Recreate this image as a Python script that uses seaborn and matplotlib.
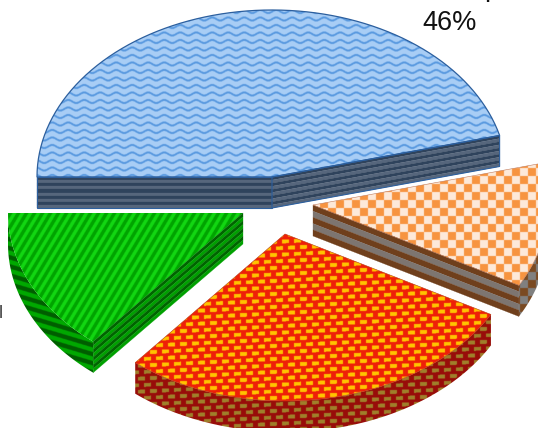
import numpy as np
import matplotlib
matplotlib.use("Agg")
import matplotlib.pyplot as plt
from matplotlib.patches import Polygon
import seaborn as sns

# slice values, clockwise from the left edge of the pie
slice_names = ["Blue", "Orange", "Red", "Green"]
slice_shares = [46, 12, 28, 14]

sns.set_theme(style="white")
plt.rcParams['font.family'] = ['Liberation Sans', 'DejaVu Sans']

# pie layout in pixels
W, H = 538, 428
RX, RY = 235, 167
DEPTH = 31
apex = {"Blue": (272, 177), "Orange": (313, 205), "Red": (285, 234), "Green": (243, 213)}

fig = plt.figure(figsize=(W / 100, H / 100), dpi=100)
ax = fig.add_axes([0, 0, 1, 1])

# texture grid
yy, xx = np.mgrid[0:H * 2, 0:W * 2] / 2.0


def hex_rgb(c):
    return np.array(matplotlib.colors.to_rgb(c))


def two_tone(mask, c_on, c_off):
    img = np.empty(mask.shape + (3,))
    img[:] = hex_rgb(c_off)
    img[mask] = hex_rgb(c_on)
    return img


def checker(c1, c2, cell=8):
    return two_tone(((xx // cell + yy // cell) % 2).astype(bool), c1, c2)


def bricks(c1, c2, shift=0.0):
    y = yy + xx * shift
    row = y // 6.5
    x = xx + row * 6
    return two_tone((y % 6.5 < 3.8) & (x % 12 < 7), c1, c2)


def waves(c1, c2):
    wob = 1.6 * np.sin(xx * 2 * np.pi / 16)
    return two_tone(np.abs(((yy + wob) % 7.5) - 3.75) < 1.1, c1, c2)


def stripes(c1, c2, kx, ky, period):
    return two_tone(((xx * kx + yy * ky) % period) < period / 2, c1, c2)


def arc(name, a0, a1):
    t = np.radians(np.linspace(a0, a1, 80))
    cx, cy = apex[name]
    return np.column_stack([cx + RX * np.cos(t), cy - RY * np.sin(t)])


def textured(points, img, edge=None, lw=0.8):
    patch = Polygon(points, closed=True, facecolor="none", edgecolor="none")
    ax.add_patch(patch)
    im = ax.imshow(img, extent=(0, W, H, 0), aspect="auto", interpolation="bilinear")
    im.set_clip_path(patch)
    if edge:
        ax.add_patch(Polygon(points, closed=True, fill=False, edgecolor=edge, linewidth=lw))


def banded(top_line, colors, edge=None):
    # ribbon under an edge, split into bands that follow it
    n = len(colors)
    for k, c in enumerate(colors):
        upper = top_line + [0, DEPTH * k / n]
        lower = top_line + [0, DEPTH * (k + 1) / n]
        ax.add_patch(Polygon(np.vstack([upper, lower[::-1]]), closed=True,
                             facecolor=c, edgecolor=c, linewidth=0.2))
    if edge:
        ax.add_patch(Polygon(np.vstack([top_line, (top_line + [0, DEPTH])[::-1]]),
                             closed=True, fill=False, edgecolor=edge, linewidth=0.8))


def segment(name, end):
    return np.linspace(apex[name], end, 40)


# angles from the shares
edges = 180 - np.cumsum([0] + slice_shares) * 3.6
angle = {n: (edges[i], edges[i + 1]) for i, n in enumerate(slice_names)}


def sector(name):
    a0, a1 = angle[name]
    return np.vstack([apex[name], arc(name, a0, a1)])


blue_band = ["#2f435c", "#56667c"] * 5
orange_band = ["#6f3f1c", "#7d7570", "#6f3f1c", "#7d7570", "#6f3f1c"]
green_band = ["#006400", "#00a000"] * 4

# blue slice
a0, a1 = angle["Blue"]
banded(segment("Blue", arc("Blue", a0, a0)[0]), blue_band, edge="#2c5f9e")
banded(segment("Blue", arc("Blue", a1, a1)[0]), blue_band, edge="#2c5f9e")
textured(sector("Blue"), waves("#5a9ae0", "#a8cdf5"), edge="#2c5f9e", lw=0.9)

# orange slice
a0, a1 = angle["Orange"]
rim = arc("Orange", a1, 0)
textured(np.vstack([rim, (rim + [0, DEPTH])[::-1]]), checker("#7b4a22", "#808080"))
banded(segment("Orange", rim[0]), orange_band)
textured(sector("Orange"), checker("#f79440", "#fde9d9"), edge="#c07a5a", lw=0.4)

# green slice
a0, a1 = angle["Green"]
rim = arc("Green", a1, a0)
textured(np.vstack([rim, (rim + [0, DEPTH])[::-1]]), stripes("#005f00", "#00a800", -0.3, 1, 9))
banded(segment("Green", rim[-1]), green_band)
textured(sector("Green"), stripes("#00a400", "#12d612", 1, 0.6, 8))

# red slice
a0, a1 = angle["Red"]
rim = arc("Red", a1, a0)
textured(np.vstack([rim, (rim + [0, DEPTH])[::-1]]), bricks("#a07f2a", "#980d0a", 0.05))
textured(sector("Red"), bricks("#ffc400", "#ee2008", 0.05), edge="#b83a10", lw=0.4)

# labels, the neighbours run off the canvas
ax.text(450, 30, f"{slice_shares[0]}%", fontsize=19.5, color="#111111", ha="center", va="baseline")
ax.text(484, -4, "p", fontsize=19.5, color="#111111", ha="left", va="baseline")
ax.text(-1.2, 318, "l", fontsize=13, color="#404040", ha="left", va="baseline")

ax.set_xlim(0, W)
ax.set_ylim(H, 0)
ax.axis("off")
sns.despine(ax=ax, left=True, bottom=True)

fig.savefig("out.png", dpi=100)
